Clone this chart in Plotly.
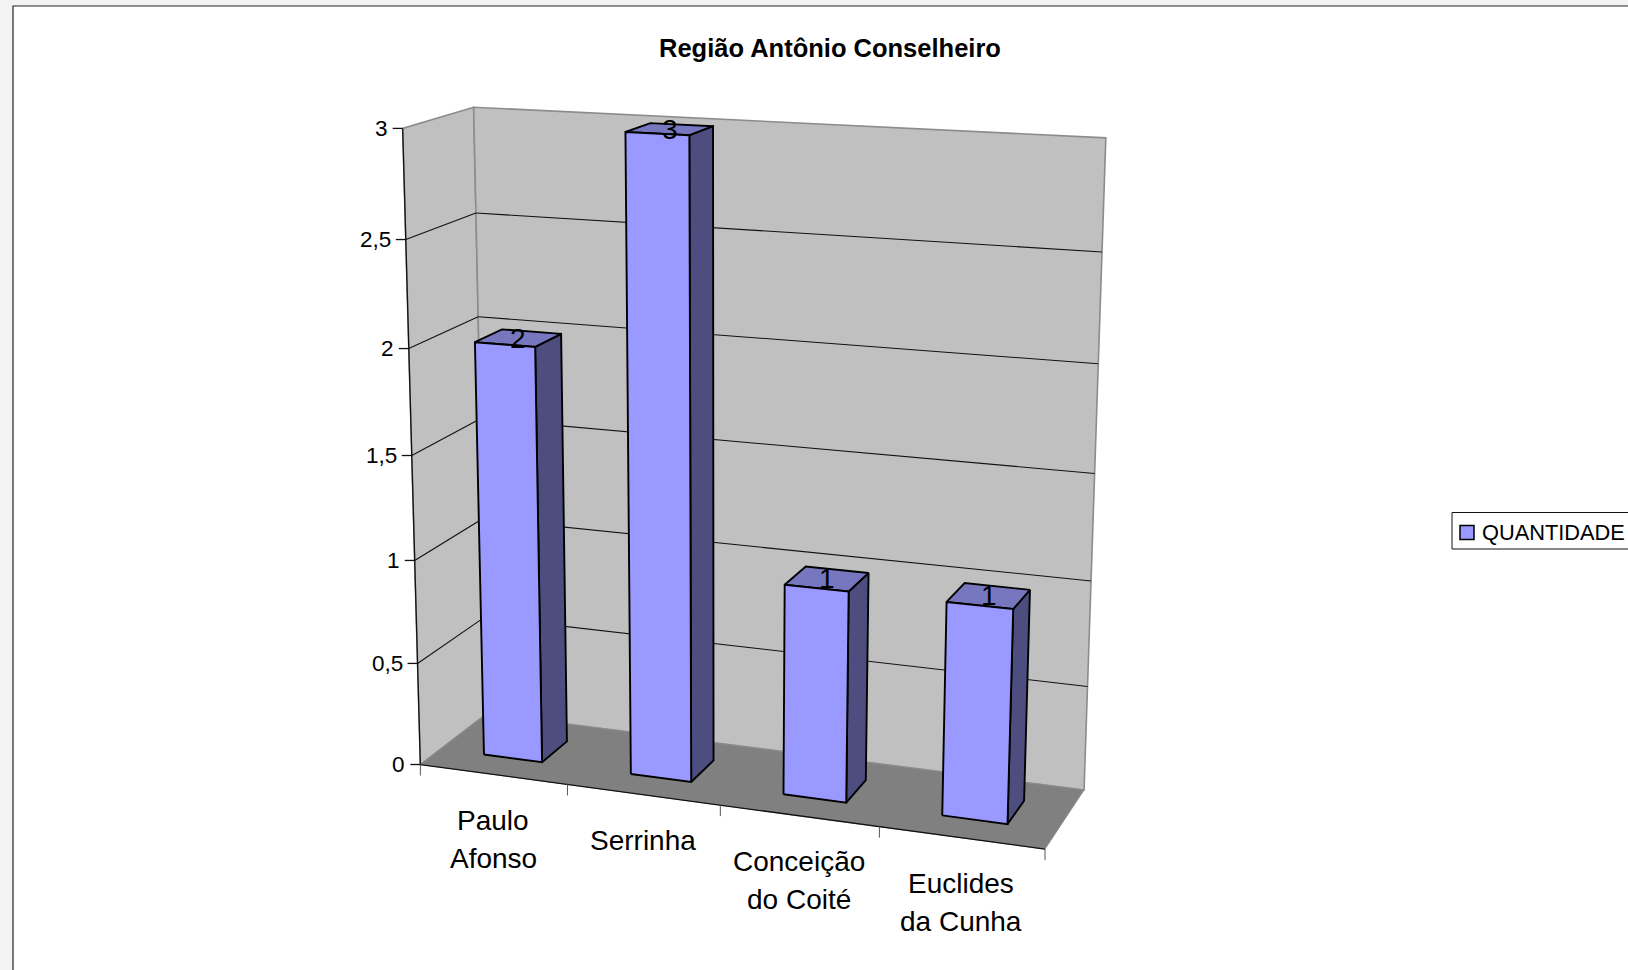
import numpy as np
import plotly.graph_objects as go

# ---------- data ----------
title = "Região Antônio Conselheiro"
categories = ["Paulo<br>Afonso", "Serrinha", "Conceição<br>do Coité", "Euclides<br>da Cunha"]
values = [2, 3, 1, 1]
y_ticks = [0, 0.5, 1, 1.5, 2, 2.5, 3]
y_tick_labels = ["0", "0,5", "1", "1,5", "2", "2,5", "3"]
series_name = "QUANTIDADE"

# ---------- style / layout ----------
W, H = 1628, 970
FRONT, SIDE, TOP = "#9999FF", "#4D4D80", "#7777BF"
WALL, FLOOR, EDGE = "#C0C0C0", "#808080", "#8C8C8C"
FONT = "Liberation Sans"
BAR_LO, BAR_HI = 0.3, 0.7          # bar span inside its category slot and in depth

# the perspective of the 3D frame: frame anchors (cat, value, depth) -> pixel
frame_model = np.array([
    [0, 0, 0], [1, 0, 0], [2, 0, 0], [3, 0, 0], [4, 0, 0],
    [0, 1, 0], [0, 2, 0], [0, 3, 0],
    [0, 0, 1], [0, 0.5, 1], [0, 1, 1], [0, 1.5, 1], [0, 2, 1], [0, 2.5, 1], [0, 3, 1],
    [4, 0, 1], [4, 0.5, 1], [4, 1, 1], [4, 1.5, 1], [4, 2, 1], [4, 2.5, 1], [4, 3, 1],
], float)
frame_pixel = np.array([
    [421.7, 763.3], [568, 783.5], [720, 805.5], [879.5, 827.5], [1044.4, 850.6],
    [415, 560], [408, 349], [402, 128],
    [486, 716], [484, 616.5], [482, 519.2], [480, 418], [478.5, 317.3], [476.8, 212.7], [474.3, 107.5],
    [1084, 788], [1088, 686.4], [1091, 580.4], [1095.4, 473.5], [1098.5, 364.5], [1101, 252], [1106, 137.7],
], float)


def fit_projection(model, pixel):
    rows = []
    for (x, y, z), (u, v) in zip(model, pixel / 1000.0):
        p = [x, y, z, 1]
        rows.append(p + [0, 0, 0, 0] + [-u * c for c in p])
        rows.append([0, 0, 0, 0] + p + [-v * c for c in p])
    return np.linalg.svd(np.array(rows))[2][-1].reshape(3, 4)


P = fit_projection(frame_model, frame_pixel)


def proj(x, y, z):
    a, b, c = P @ np.array([x, y, z, 1.0])
    return 1000 * a / c, 1000 * b / c


N = len(categories)
Y_MAX = max(y_ticks)
fig = go.Figure()


def face(corners, color, line="black", width=1.9):
    pts = [proj(*c) for c in corners] + [proj(*corners[0])]
    fig.add_trace(go.Scatter(x=[p[0] for p in pts], y=[p[1] for p in pts], mode="lines", fill="toself",
                             fillcolor=color, line=dict(color=line, width=width), hoverinfo="skip", showlegend=False))


def segs(pairs, color, width=1.0):
    xs, ys = [], []
    for a, b in pairs:
        xs += [a[0], b[0], None]
        ys += [a[1], b[1], None]
    fig.add_trace(go.Scatter(x=xs, y=ys, mode="lines", line=dict(color=color, width=width),
                             hoverinfo="skip", showlegend=False))


# walls and floor
face([(0, 0, 0), (0, Y_MAX, 0), (0, Y_MAX, 1), (0, 0, 1)], WALL, EDGE, 1.6)
face([(0, 0, 1), (0, Y_MAX, 1), (N, Y_MAX, 1), (N, 0, 1)], WALL, EDGE, 1.6)
face([(0, 0, 0), (0, 0, 1), (N, 0, 1), (N, 0, 0)], FLOOR, EDGE, 1.0)

# gridlines
grid = []
for t in y_ticks[1:-1]:
    grid.append((proj(0, t, 0), proj(0, t, 1)))
    grid.append((proj(0, t, 1), proj(N, t, 1)))
segs(grid, "#111111", 1.1)

# axis lines and ticks
axis = [(proj(0, 0, 0), proj(0, Y_MAX, 0)), (proj(0, 0, 0), proj(N, 0, 0))]
for t in y_ticks:
    u, v = proj(0, t, 0)
    axis.append(((u - 10, v), (u, v)))
segs(axis, "#111111", 1.3)
x_ticks = []
for i in range(N + 1):
    u, v = proj(i, 0, 0)
    x_ticks.append(((u, v), (u, v + 11)))
segs(x_ticks, "#555555", 1.0)

# bars
annotations = []
for i, val in enumerate(values):
    x0, x1, z0, z1 = i + BAR_LO, i + BAR_HI, BAR_LO, BAR_HI
    face([(x1, 0, z0), (x1, val, z0), (x1, val, z1), (x1, 0, z1)], SIDE)
    face([(x0, val, z0), (x1, val, z0), (x1, val, z1), (x0, val, z1)], TOP)
    face([(x0, 0, z0), (x1, 0, z0), (x1, val, z0), (x0, val, z0)], FRONT)
    u, v = proj(i + 0.5, val, 0.5)
    annotations.append(dict(x=u, y=v, text=str(val), showarrow=False, font=dict(family=FONT, size=28, color="black")))

# category labels
for i, cat in enumerate(categories):
    u, v = proj(i + 0.5, 0, 0)
    for k, line in enumerate(cat.split("<br>")):
        annotations.append(dict(x=u, y=v + 46 + 38 * k, text=line, showarrow=False,
                                font=dict(family=FONT, size=28, color="black")))

# value-axis labels
for t, lab in zip(y_ticks, y_tick_labels):
    u, v = proj(0, t, 0)
    annotations.append(dict(x=u - 13, y=v, text=lab, showarrow=False, xanchor="right",
                            font=dict(family=FONT, size=22.5, color="black")))

# title
annotations.append(dict(x=830, y=48, text="<b>%s</b>" % title, showarrow=False,
                        font=dict(family=FONT, size=25.5, color="black")))

# legend (the frame runs off the page edge, as in the reference)
fig.add_trace(go.Scatter(x=[1467], y=[532.5], mode="markers", name=series_name, showlegend=False, hoverinfo="skip",
                         marker=dict(symbol="square", size=14, color=FRONT, line=dict(color="black", width=1.5))))
annotations.append(dict(x=1480, y=532, text=series_name, showarrow=False, xanchor="left",
                        font=dict(family=FONT, size=21.8, color="black")))

shapes = [
    dict(type="rect", xref="x", yref="y", x0=0, x1=W, y0=0, y1=H, fillcolor="#F3F3F3", line_width=0, layer="below"),
    dict(type="rect", xref="x", yref="y", x0=13, x1=W + 20, y0=6, y1=H + 20, fillcolor="white",
         line=dict(color="#222222", width=1.2), layer="below"),
    dict(type="rect", xref="x", yref="y", x0=1452, x1=W + 20, y0=512.5, y1=549, fillcolor="white",
         line=dict(color="#111111", width=1), layer="below"),
]

fig.update_layout(
    width=W, height=H, margin=dict(l=0, r=0, t=0, b=0), paper_bgcolor="white", plot_bgcolor="white",
    showlegend=False, annotations=annotations, shapes=shapes,
    xaxis=dict(range=[0, W], visible=False, fixedrange=True),
    yaxis=dict(range=[H, 0], visible=False, fixedrange=True),
)
fig.write_html("out.html", config=dict(displayModeBar=False),
               post_script="document.body.style.margin='0';document.documentElement.style.overflow='hidden';")
